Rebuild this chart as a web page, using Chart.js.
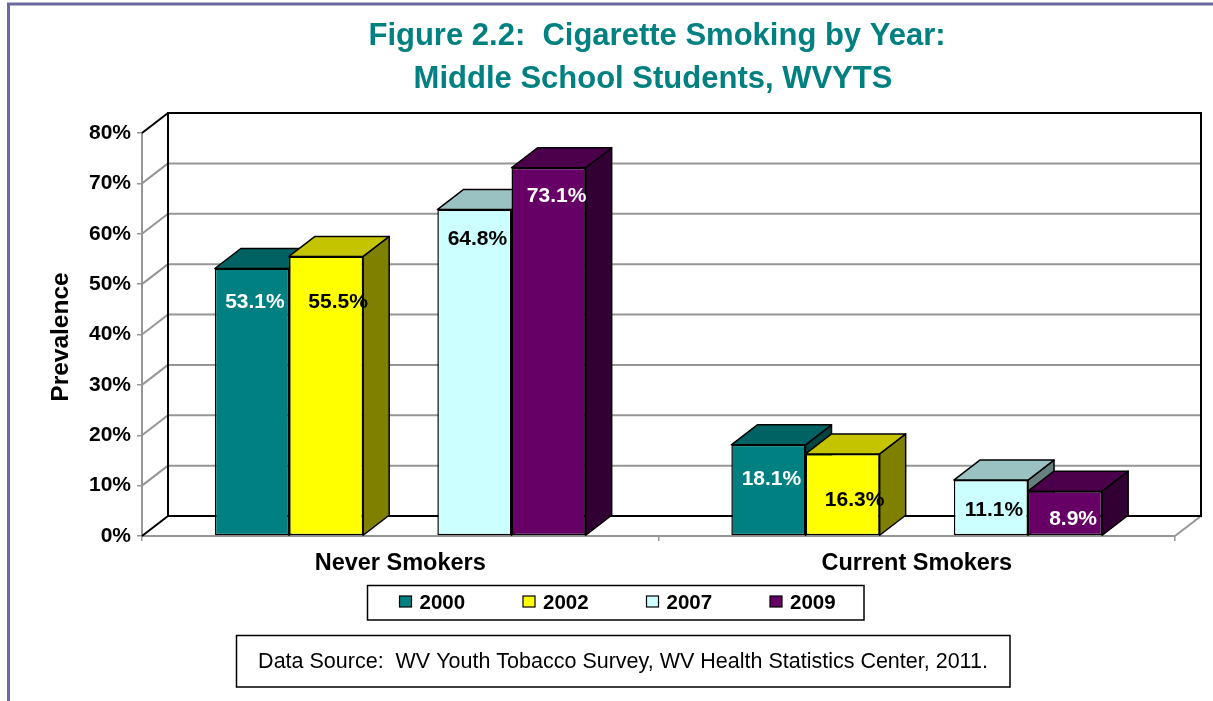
<!DOCTYPE html>
<html>
<head>
<meta charset="utf-8">
<title>Cigarette Smoking by Year: Middle School Students, WVYTS</title>
<script src="https://cdn.jsdelivr.net/npm/chart.js@4/dist/chart.umd.min.js"></script>
<style>
  html, body { margin: 0; padding: 0; background: #ffffff; }
  #wrap { width: 1213px; height: 701px; position: relative; }
</style>
</head>
<body>
<div id="wrap"><canvas id="chart" width="1213" height="701"></canvas></div>
<script>
// ---- data ----
const categories = ['Never Smokers', 'Current Smokers'];
const seriesNames = ['2000', '2002', '2007', '2009'];
const values2000 = [53.1, 18.1];
const values2002 = [55.5, 16.3];
const values2007 = [64.8, 11.1];
const values2009 = [73.1, 8.9];
const yTickValues = [0, 10, 20, 30, 40, 50, 60, 70, 80];
const titleLines = ['Figure 2.2:  Cigarette Smoking by Year:', 'Middle School Students, WVYTS'];
const yAxisTitle = 'Prevalence';
const sourceNote = 'Data Source:  WV Youth Tobacco Survey, WV Health Statistics Center, 2011.';

// ---- styles ----
const FONT = "'Liberation Sans', Arial, Helvetica, sans-serif";
const DEPTH_X = 26, DEPTH_Y = -20;           // 3-D depth offset of the plot box
const seriesStyle = {
  '2000': { front: '#008080', top: '#006262', side: '#004444', label: '#ffffff', ldx: 3,  ldy: 34 },
  '2002': { front: '#ffff00', top: '#c4c400', side: '#808000', label: '#000000', ldx: 12, ldy: 46 },
  '2007': { front: '#ccffff', top: '#9bc2c2', side: '#668080', label: '#000000', ldx: 3,  ldy: 30 },
  '2009': { front: '#660066', top: '#4c004c', side: '#330033', label: '#ffffff', ldx: 8,  ldy: 28 }
};
const seriesValues = [values2000, values2002, values2007, values2009];

// the gap between 2002 and 2007 in each cluster is an empty series slot
function makeDatasets() {
  const ds = seriesNames.map((name, i) => ({
    label: name,
    data: seriesValues[i],
    backgroundColor: seriesStyle[name].front,
    borderColor: '#000000',
    borderWidth: 1.5,
    borderSkipped: false
  }));
  ds.splice(2, 0, { label: '', data: categories.map(() => null), backgroundColor: 'rgba(0,0,0,0)', borderWidth: 0 });
  return ds;
}

function poly(ctx, pts, fill) {
  ctx.beginPath();
  ctx.moveTo(pts[0][0], pts[0][1]);
  for (let i = 1; i < pts.length; i++) ctx.lineTo(pts[i][0], pts[i][1]);
  ctx.closePath();
  ctx.fillStyle = fill;
  ctx.fill();
  ctx.stroke();
}

function line(ctx, x1, y1, x2, y2) {
  ctx.beginPath();
  ctx.moveTo(x1, y1);
  ctx.lineTo(x2, y2);
  ctx.stroke();
}

// back wall, side wall and 3-D bars (drawn left to right so nearer faces overlap correctly)
const box3d = {
  id: 'box3d',
  beforeDatasetsDraw(chart) {
    const ctx = chart.ctx;
    const { left, right, top, bottom } = chart.chartArea;
    const ys = chart.scales.y;
    const maxV = yTickValues[yTickValues.length - 1];
    ctx.save();
    ctx.lineCap = 'butt';

    // gridlines on the back wall and the left wall
    ctx.lineWidth = 2;
    yTickValues.forEach(v => {
      const py = ys.getPixelForValue(v);
      const edge = (v === 0 || v === maxV);
      ctx.strokeStyle = edge ? '#000000' : '#969696';
      if (!edge) line(ctx, left + DEPTH_X, py + DEPTH_Y, right + DEPTH_X, py + DEPTH_Y);
      line(ctx, left, py, left + DEPTH_X, py + DEPTH_Y);
    });
    // right edge of the floor
    ctx.strokeStyle = '#969696';
    line(ctx, right, bottom, right + DEPTH_X, bottom + DEPTH_Y);
    // back wall frame
    ctx.strokeStyle = '#000000';
    ctx.lineWidth = 2;
    ctx.strokeRect(left + DEPTH_X, top + DEPTH_Y, right - left, bottom - top);

    // bars
    ctx.lineJoin = 'round';
    const metas = chart.data.datasets.map((d, i) => chart.getDatasetMeta(i));
    categories.forEach((c, ci) => {
      metas.forEach((meta, di) => {
        const ds = chart.data.datasets[di];
        const v = ds.data[ci];
        if (v === null || v === undefined) return;
        const st = seriesStyle[ds.label];
        const bar = meta.data[ci];
        const p = bar.getProps(['x', 'y', 'base', 'width'], true);
        const l = p.x - p.width / 2, r = p.x + p.width / 2;
        ctx.strokeStyle = '#000000';
        ctx.lineWidth = 1.5;
        poly(ctx, [[r, p.y], [r + DEPTH_X, p.y + DEPTH_Y], [r + DEPTH_X, p.base + DEPTH_Y], [r, p.base]], st.side);
        poly(ctx, [[l, p.y], [l + DEPTH_X, p.y + DEPTH_Y], [r + DEPTH_X, p.y + DEPTH_Y], [r, p.y]], st.top);
        bar.draw(ctx);
      });
    });

    // value labels
    ctx.font = 'bold 21px ' + FONT;
    ctx.textAlign = 'center';
    ctx.textBaseline = 'middle';
    metas.forEach((meta, di) => {
      const ds = chart.data.datasets[di];
      if (!seriesStyle[ds.label]) return;
      const st = seriesStyle[ds.label];
      ds.data.forEach((v, ci) => {
        const p = meta.data[ci].getProps(['x', 'y'], true);
        ctx.fillStyle = st.label;
        ctx.fillText(v.toFixed(1) + '%', p.x + st.ldx, p.y + st.ldy);
      });
    });
    ctx.restore();
    return false;
  }
};

// frame, title, axis title, legend and source note
const decorations = {
  id: 'decorations',
  afterDraw(chart) {
    const ctx = chart.ctx;
    ctx.save();
    // outer frame
    ctx.strokeStyle = '#6a6a9e';
    ctx.lineWidth = 3;
    ctx.strokeRect(8.5, 4, 1300, 800);

    // title
    ctx.fillStyle = '#008080';
    ctx.font = 'bold 31px ' + FONT;
    ctx.textAlign = 'center';
    ctx.textBaseline = 'alphabetic';
    ctx.fillText(titleLines[0], 657, 45);
    ctx.fillText(titleLines[1], 653, 88);

    // y axis title
    ctx.save();
    ctx.translate(61, 337);
    ctx.rotate(-Math.PI / 2);
    ctx.fillStyle = '#000000';
    ctx.font = 'bold 24.5px ' + FONT;
    ctx.textAlign = 'center';
    ctx.textBaseline = 'middle';
    ctx.fillText(yAxisTitle, 0, 0);
    ctx.restore();

    // legend
    ctx.strokeStyle = '#000000';
    ctx.lineWidth = 1.5;
    ctx.strokeRect(367.5, 585.5, 496.5, 34.5);
    ctx.font = 'bold 20.5px ' + FONT;
    ctx.textAlign = 'left';
    ctx.textBaseline = 'middle';
    chart.data.datasets.filter(d => seriesStyle[d.label]).forEach((d, i) => {
      const bx = 399.5 + i * 123.5;
      ctx.fillStyle = d.backgroundColor;
      ctx.fillRect(bx, 596, 12, 11);
      ctx.lineWidth = 1.2;
      ctx.strokeRect(bx, 596, 12, 11);
      ctx.fillStyle = '#000000';
      ctx.fillText(d.label, bx + 20, 603);
    });

    // data source note
    ctx.lineWidth = 1.5;
    ctx.strokeRect(236.5, 635.5, 773.5, 51.5);
    ctx.font = '21.5px ' + FONT;
    ctx.textAlign = 'center';
    ctx.fillStyle = '#000000';
    ctx.fillText(sourceNote, 623, 662);
    ctx.restore();
  }
};

Chart.defaults.font.family = FONT;
Chart.defaults.color = '#000000';

new Chart(document.getElementById('chart'), {
  type: 'bar',
  data: { labels: categories, datasets: makeDatasets() },
  options: {
    responsive: false,
    animation: false,
    devicePixelRatio: 1,
    events: [],
    categoryPercentage: 0.718,
    barPercentage: 1.0,
    layout: { padding: { top: 133, right: 38, bottom: 115, left: 0 } },
    plugins: { legend: { display: false }, title: { display: false }, tooltip: { enabled: false } },
    scales: {
      x: {
        afterFit(scale) { scale.height = 50; },
        grid: { display: true, drawOnChartArea: false, drawTicks: true, tickLength: 5, color: '#969696', lineWidth: 1.5, offset: true },
        border: { display: true, color: '#969696', width: 2 },
        ticks: { font: { size: 23.5, weight: 'bold' }, color: '#000000', padding: 8, maxRotation: 0, autoSkip: false }
      },
      y: {
        min: 0, max: 80,
        afterFit(scale) { scale.width = 142; },
        afterBuildTicks(scale) { scale.ticks = yTickValues.map(v => ({ value: v })); },
        grid: { display: true, drawOnChartArea: false, drawTicks: true, tickLength: 5, color: '#969696', lineWidth: 1.5 },
        border: { display: true, color: '#969696', width: 2 },
        ticks: { font: { size: 21, weight: 'bold' }, color: '#000000', padding: 6, callback: v => v + '%' }
      }
    }
  },
  plugins: [box3d, decorations]
});
</script>
</body>
</html>
